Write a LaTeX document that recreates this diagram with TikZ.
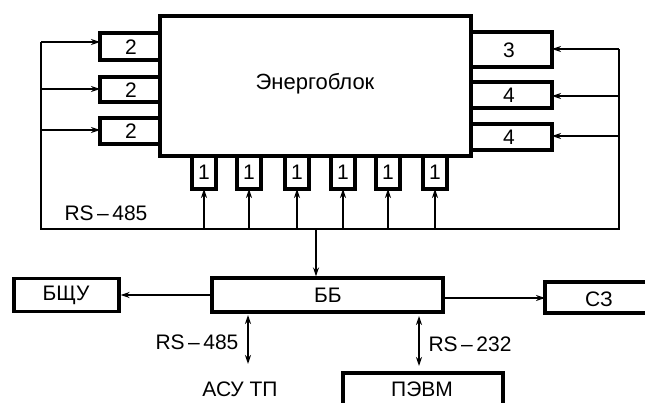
\documentclass[tikz,border=0pt]{standalone}
\usepackage{fontspec}
\setmainfont{Liberation Sans}
\usetikzlibrary{arrows.meta}
\begin{document}
\begin{tikzpicture}[x=1pt,y=-1pt,
  box/.style={draw,line width=3.2pt},
  conn/.style={line width=1.8pt},
  arr/.style={conn,-{Stealth[length=9pt,width=6pt]}},
  darr/.style={conn,{Stealth[length=9pt,width=6pt]}-{Stealth[length=9pt,width=6pt]}},
  lbl/.style={font=\fontsize{21}{21}\selectfont,inner sep=0pt},
  dig/.style={font=\fontsize{21}{21}\selectfont,inner sep=0pt}]
\useasboundingbox (0,0) rectangle (645,403);
\clip (0,0) rectangle (645,403);
% left boxes 2
\draw[box] (100,33) rectangle (160,60);
\draw[box] (100,77) rectangle (160,102);
\draw[box] (100,118) rectangle (160,144);
\node[dig] (l1) at (131,47) {2};
\node[dig] (l2) at (131,90) {2};
\node[dig] (l3) at (131,131) {2};
% right boxes
\draw[box] (471,32) rectangle (552,67);
\draw[box] (471,82) rectangle (552,108);
\draw[box] (471,124) rectangle (552,150);
\node[dig] (r1) at (509,50) {3};
\node[dig] (r2) at (509,95) {4};
\node[dig] (r3) at (509,137) {4};
% small boxes 1
\foreach \i/\x in {1/204,2/249,3/297,4/343,5/388,6/435}{
  \draw[box] (\x-12,156) rectangle (\x+12,189);
  \node[dig] (s\i) at (\x,172) {1};
  \coordinate (sb\i) at (\x,189);
  \coordinate (bb\i) at (\x,229);
}
% main block
\draw[box,fill=white] (160,16) rectangle (471,156);
\node[lbl,font=\fontsize{22}{22}\selectfont] (main) at (315,84) {Энергоблок};
% bus
\coordinate (bl) at (41,229);
\coordinate (br) at (619,229);
\draw[conn] (41,42) -- (bl) -- (br) -- (619,49);
\draw[arr] (41,42) -- (100,42);
\draw[arr] (41,89) -- (100,89);
\draw[arr] (41,130) -- (100,130);
\draw[arr] (619,49) -- (552,49);
\draw[arr] (619,96) -- (552,96);
\draw[arr] (619,136) -- (552,136);
\foreach \i in {1,...,6}{\draw[arr] (bb\i) -- (sb\i);}
\node[lbl] (rs1) at (106,213) {RS\,–\,485};
% lower part
\node[box,minimum width=231pt,minimum height=34pt,inner sep=0pt] (bb) at (327.5,295) {};
\node[lbl] (bbt) at (328,295) {ББ};
\node[box,minimum width=105pt,minimum height=33pt,inner sep=0pt] (bshu) at (66.5,295) {};
\node[lbl] at (66,295) {БЩУ};
\draw[box] (700,282) -- (545,282) -- (545,313) -- (700,313);
\coordinate (szl) at (545,298);
\node[lbl] (szt) at (599,299) {СЗ};
\draw[box] (343,420) -- (343,373) -- (503,373) -- (503,420);
\node[lbl] (pevm) at (422,389) {ПЭВМ};
\coordinate (pevmt) at (419,373);
\draw[arr] (316,229) -- (bb.north -| 316,0);
\draw[arr] (212,295) -- (bshu.east);
\draw[arr] (443,298) -- (szl);
\draw[darr] (248,315) -- (248,364);
\draw[darr] (419,316) -- (419,366);
\node[lbl] (rs2) at (197,342) {RS\,–\,485};
\node[lbl] (rs3) at (470,344) {RS\,–\,232};
\node[lbl] (asu) at (240,389) {АСУ ТП};
\end{tikzpicture}
\end{document}
